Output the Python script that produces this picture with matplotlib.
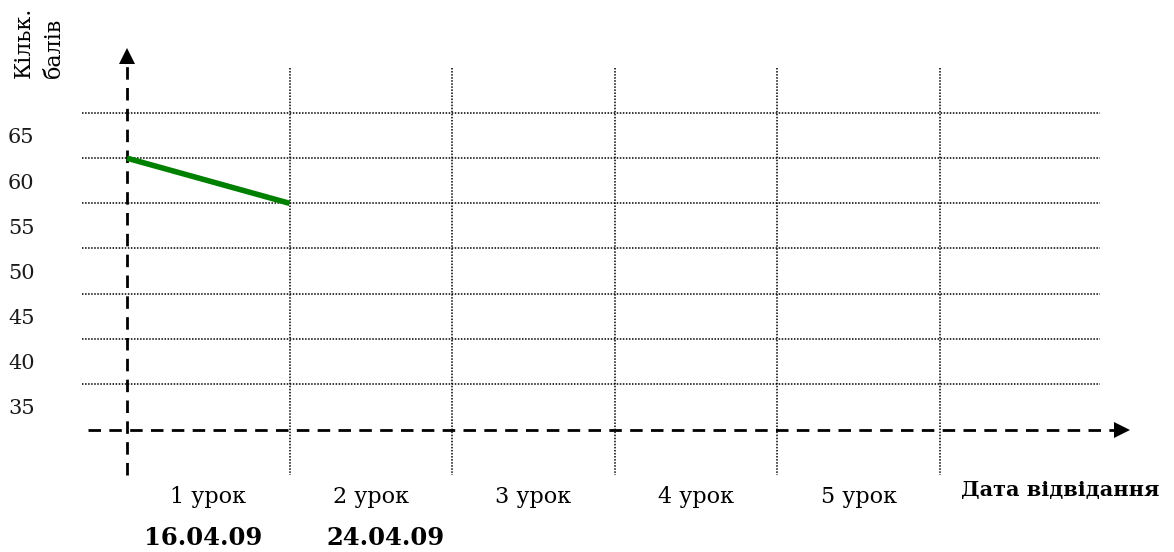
import matplotlib
matplotlib.use("Agg")
import matplotlib.pyplot as plt
import numpy as np

# Data
lessons = ["1 урок", "2 урок", "3 урок", "4 урок", "5 урок"]
dates = ["16.04.09", "24.04.09"]
scores = [62.5, 57.5]          # results of lesson 1 and lesson 2
tick_values = [65, 60, 55, 50, 45, 40, 35]
grid_values = [67.5, 62.5, 57.5, 52.5, 47.5, 42.5, 37.5]

plt.rcParams["font.family"] = ["DejaVu Serif"]

# Pixel -> data mapping (axes fills whole figure)
W, H = 1174, 552
x0, dx = 127, 162.6           # px of x=0, px per lesson
y0, dy = 113, 9.033           # px of v=67.5, px per score unit

def px_x(p):
    return (p - x0) / dx

def px_y(p):
    return 67.5 - (p - y0) / dy

fig = plt.figure(figsize=(W / 100, H / 100), dpi=100, facecolor="white")
ax = fig.add_axes([0, 0, 1, 1])
ax.set_xlim(px_x(0), px_x(W))
ax.set_ylim(px_y(H), px_y(0))
ax.axis("off")

dot = (0, (1, 1))
dash = (0, (4.5, 3))

# Horizontal dotted grid
for g in grid_values:
    ax.plot([px_x(82), px_x(1100)], [g, g], color="black", lw=1.1, ls=dot)

# Vertical dotted lines between lessons
for i in range(1, len(lessons) + 1):
    ax.plot([i, i], [px_y(68), px_y(475)], color="black", lw=1.1, ls=dot)

# Axes (dashed, with arrows)
ax_y = px_y(430)
ax.plot([px_x(88), px_x(1118)], [ax_y, ax_y], color="black", lw=2, ls=dash)
ax.plot([0, 0], [px_y(475), px_y(60)], color="black", lw=2, ls=dash)
ax.plot(px_x(1122), ax_y, marker=">", color="black", ms=11, mew=0)
ax.plot(0, px_y(56), marker="^", color="black", ms=11, mew=0)

# Score line
ax.plot(range(len(scores)), scores, color="#008000", lw=4, solid_capstyle="butt")

# Y tick labels
for v in tick_values:
    ax.text(px_x(8), v - 0.25, str(v), ha="left", va="center", fontsize=15, color="#1a1a1a")

# Lesson labels
for i, lab in enumerate(lessons):
    ax.text(i + 0.5, px_y(497), lab, ha="center", va="center", fontsize=16)

date_x = [0.47, 1.59]
for x, d in zip(date_x, dates):
    ax.text(x, px_y(538), d, ha="center", va="center", fontsize=17.5, fontweight="bold")

ax.text(px_x(1060), px_y(490), "Дата відвідання", ha="center", va="center",
        fontsize=15, fontweight="bold")

ax.text(px_x(24), px_y(78), "Кільк.", rotation=90, ha="center", va="bottom", fontsize=16)
ax.text(px_x(54), px_y(78), "балів", rotation=90, ha="center", va="bottom", fontsize=16)

fig.savefig("out.png", dpi=100, facecolor="white")
